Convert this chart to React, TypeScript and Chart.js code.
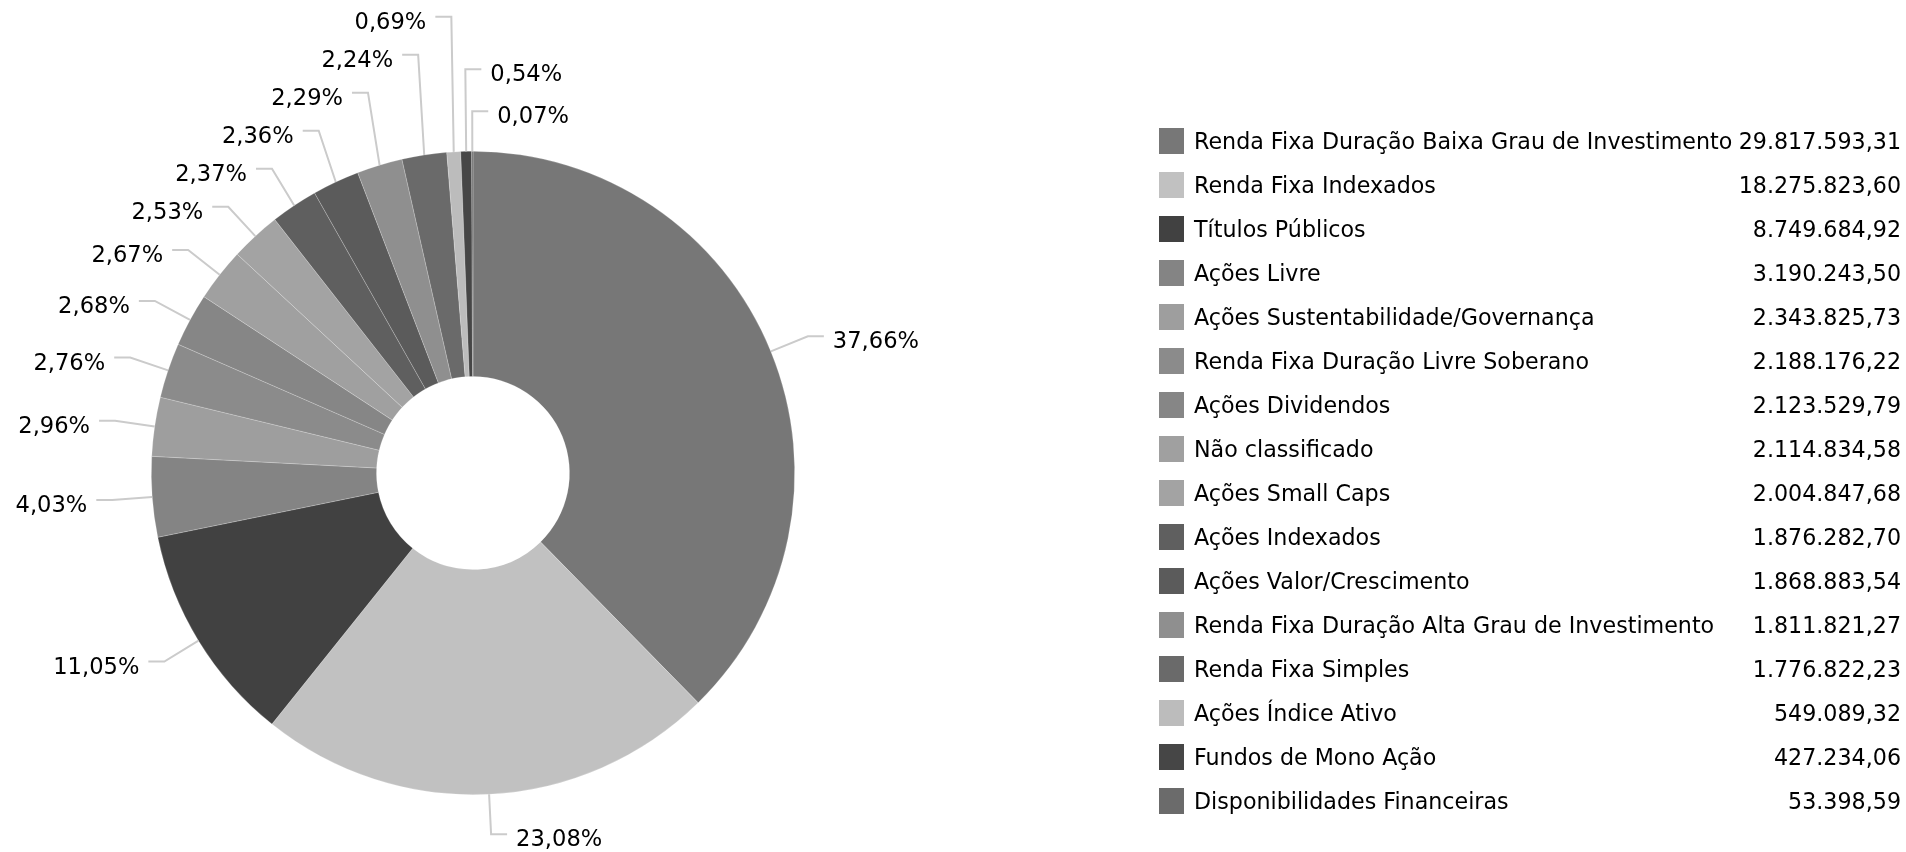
import React, { useEffect, useRef } from "react";
import { Chart, registerables } from "chart.js";

Chart.register(...registerables);

const categories: string[] = [
  "Renda Fixa Duração Baixa Grau de Investimento",
  "Renda Fixa Indexados",
  "Títulos Públicos",
  "Ações Livre",
  "Ações Sustentabilidade/Governança",
  "Renda Fixa Duração Livre Soberano",
  "Ações Dividendos",
  "Não classificado",
  "Ações Small Caps",
  "Ações Indexados",
  "Ações Valor/Crescimento",
  "Renda Fixa Duração Alta Grau de Investimento",
  "Renda Fixa Simples",
  "Ações Índice Ativo",
  "Fundos de Mono Ação",
  "Disponibilidades Financeiras",
];

const values: number[] = [
  29817593.31, 18275823.6, 8749684.92, 3190243.5, 2343825.73, 2188176.22,
  2123529.79, 2114834.58, 2004847.68, 1876282.7, 1868883.54, 1811821.27,
  1776822.23, 549089.32, 427234.06, 53398.59,
];

const colors: string[] = [
  "#777777", "#c1c1c1", "#414141", "#848484", "#9e9e9e", "#8b8b8b",
  "#868686", "#a0a0a0", "#a3a3a3", "#5f5f5f", "#5b5b5b", "#8f8f8f",
  "#6a6a6a", "#bcbcbc", "#464646", "#6b6b6b",
];

const FONT = '"DejaVu Sans", Verdana, sans-serif';

function formatBR(v: number): string {
  const [intPart, dec] = v.toFixed(2).split(".");
  return intPart.replace(/\B(?=(\d{3})+(?!\d))/g, ".") + "," + dec;
}

function formatPct(v: number, total: number): string {
  return ((v / total) * 100).toFixed(2).replace(".", ",") + "%";
}

const labelsPlugin = {
  id: "outsideLabels",
  afterDatasetsDraw(chart: any) {
    const ctx: CanvasRenderingContext2D = chart.ctx;
    const meta = chart.getDatasetMeta(0);
    const data = chart.data.datasets[0].data as number[];
    const total = data.reduce((a, b) => a + b, 0);
    const EXT = 40;
    const HOR = 16;

    const items = meta.data.map((arc: any, i: number) => {
      const p = arc.getProps(["x", "y", "startAngle", "endAngle", "outerRadius"], true);
      const mid = (p.startAngle + p.endAngle) / 2;
      const px = p.x + p.outerRadius * Math.cos(mid);
      const py = p.y + p.outerRadius * Math.sin(mid);
      const ex = p.x + (p.outerRadius + EXT) * Math.cos(mid);
      const ey = p.y + (p.outerRadius + EXT) * Math.sin(mid);
      let a = mid + Math.PI / 2;
      a = ((a % (2 * Math.PI)) + 2 * Math.PI) % (2 * Math.PI);
      const right = ex >= p.x - 15;
      return { i, px, py, ex, ey, y: ey, a, right };
    });

    const rightItems = items
      .filter((it: any) => it.right)
      .map((it: any) => ({ ...it, key: it.a > Math.PI ? it.a - 2 * Math.PI : it.a }))
      .sort((u: any, v: any) => v.key - u.key);
    const leftItems = items.filter((it: any) => !it.right).sort((u: any, v: any) => u.a - v.a);

    const push = (list: any[], spacing: number) => {
      let prev = Infinity;
      for (const it of list) {
        it.y = Math.min(it.ey, prev - spacing);
        prev = it.y;
      }
    };
    push(rightItems, 42);
    push(leftItems, 38);

    ctx.save();
    ctx.font = `22.6px ${FONT}`;
    ctx.textBaseline = "alphabetic";
    for (const it of [...rightItems, ...leftItems]) {
      const dir = it.right ? 1 : -1;
      ctx.beginPath();
      ctx.strokeStyle = "#cbcbcb";
      ctx.lineWidth = 2;
      ctx.moveTo(it.px, it.py);
      ctx.lineTo(it.ex, it.y);
      ctx.lineTo(it.ex + dir * HOR, it.y);
      ctx.stroke();
      ctx.fillStyle = "#000000";
      ctx.textAlign = it.right ? "left" : "right";
      const tx = it.ex + dir * (HOR + (it.right ? 9 : 9));
      ctx.fillText(formatPct(data[it.i], total), tx, it.y + 12);
    }
    ctx.restore();

    // Legend
    const LEG_X = 1159;
    const LEG_TOP = 141;
    const ROW = 44;
    const VAL_X = 1901;
    ctx.save();
    ctx.font = `22.2px ${FONT}`;
    ctx.textBaseline = "alphabetic";
    const bg = chart.data.datasets[0].backgroundColor as string[];
    chart.data.labels.forEach((lab: string, i: number) => {
      const cy = LEG_TOP + ROW * i;
      ctx.fillStyle = bg[i];
      ctx.fillRect(LEG_X, cy - 13, 25, 26);
      ctx.fillStyle = "#000000";
      ctx.textAlign = "left";
      ctx.fillText(lab, LEG_X + 35, cy + 8);
      ctx.textAlign = "right";
      ctx.fillText(formatBR(data[i]), VAL_X, cy + 8);
    });
    ctx.restore();
  },
};

export default function App() {
  const ref = useRef<HTMLCanvasElement | null>(null);

  useEffect(() => {
    if (!ref.current) return;
    const chart = new Chart(ref.current, {
      type: "doughnut",
      data: {
        labels: categories,
        datasets: [
          {
            data: values,
            backgroundColor: colors,
            borderColor: "rgba(255,255,255,0.35)",
            borderWidth: 0.6,
            hoverBorderWidth: 0.6,
            hoverOffset: 0,
            offset: 0,
          } as any,
        ],
      },
      options: {
        animation: false,
        responsive: true,
        maintainAspectRatio: false,
        cutout: "30%",
        events: [],
        layout: { padding: { left: 151, top: 151, right: 1111, bottom: 57 } },
        plugins: {
          legend: { display: false },
          tooltip: { enabled: false },
          title: { display: false },
        },
      } as any,
      plugins: [labelsPlugin],
    });
    return () => chart.destroy();
  }, []);

  return (
    <div
      style={{
        position: "fixed",
        left: 0,
        top: 0,
        width: "1906px",
        height: "852px",
        background: "#ffffff",
      }}
    >
      <canvas ref={ref} />
    </div>
  );
}
